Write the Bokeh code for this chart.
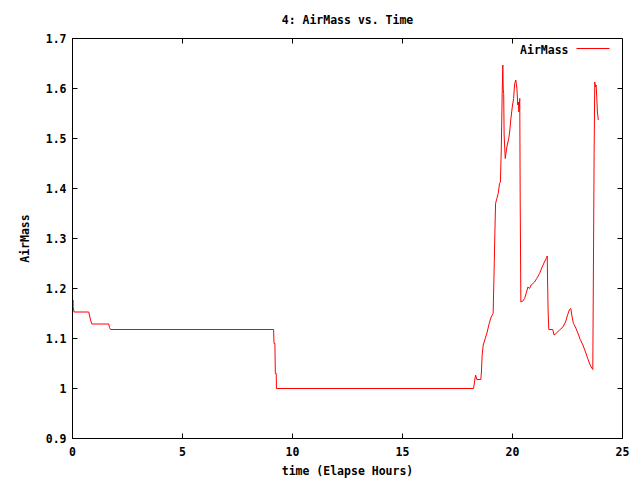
from bokeh.plotting import figure
from bokeh.models import FixedTicker, PrintfTickFormatter, Label, Arrow, LinearAxis
from bokeh.embed import file_html
from bokeh.resources import INLINE

title_text = "4: AirMass vs. Time"
x_label = "time (Elapse Hours)"
y_label = "AirMass"
series_name = "AirMass"

x_min, x_max = 0, 25
y_min, y_max = 0.9, 1.7
x_ticks = [0, 5, 10, 15, 20, 25]
y_ticks = [0.9, 1.0, 1.1, 1.2, 1.3, 1.4, 1.5, 1.6, 1.7]

time_hours = [
    0.03, 0.03, 0.07, 0.74, 0.78, 0.82, 0.88, 1.65, 1.68, 1.73, 9.14, 9.16, 9.2, 9.22,
    9.26, 9.27, 18.23, 18.32, 18.38, 18.56, 18.59, 18.62, 18.67, 18.76, 18.85, 18.94,
    19.03, 19.12, 19.15, 19.2, 19.23, 19.29, 19.35, 19.41, 19.45, 19.49, 19.53, 19.56,
    19.58, 19.6, 19.62, 19.67, 19.7, 19.76, 19.83, 19.88, 19.92, 19.99, 20.05, 20.1,
    20.15, 20.2, 20.24, 20.27, 20.29, 20.32, 20.33, 20.35, 20.38, 20.47, 20.55, 20.62,
    20.7, 20.77, 20.85, 21.0, 21.1, 21.23, 21.35, 21.45, 21.53, 21.58, 21.59, 21.62,
    21.65, 21.83, 21.89, 21.98, 22.14, 22.29, 22.41, 22.51, 22.59, 22.65, 22.71, 22.77,
    22.86, 22.97, 23.08, 23.2, 23.32, 23.42, 23.53, 23.62, 23.65, 23.67, 23.71, 23.74,
    23.77, 23.8, 23.83, 23.86, 23.9,
]
airmass = [
    1.177, 1.163, 1.153, 1.153, 1.145, 1.137, 1.129, 1.129, 1.122, 1.118, 1.118, 1.09,
    1.09, 1.03, 1.03, 1.0, 1.0, 1.027, 1.018, 1.018, 1.035, 1.067, 1.087, 1.1, 1.113,
    1.13, 1.143, 1.15, 1.207, 1.313, 1.37, 1.38, 1.39, 1.41, 1.413, 1.477, 1.587, 1.647,
    1.597, 1.59, 1.507, 1.46, 1.47, 1.487, 1.5, 1.517, 1.537, 1.563, 1.58, 1.61, 1.617,
    1.6, 1.567, 1.573, 1.553, 1.573, 1.58, 1.377, 1.173, 1.175, 1.18, 1.19, 1.203, 1.2,
    1.207, 1.213, 1.22, 1.23, 1.243, 1.253, 1.26, 1.265, 1.227, 1.153, 1.118, 1.118,
    1.107, 1.11, 1.117, 1.123, 1.133, 1.148, 1.158, 1.16, 1.143, 1.13, 1.123, 1.111,
    1.098, 1.087, 1.073, 1.06, 1.047, 1.04, 1.038, 1.183, 1.47, 1.613, 1.603, 1.607,
    1.583, 1.553, 1.537,
]

FONT = "DejaVu Sans Mono"
FS = "11.5px"
FRAME_W, FRAME_H = 550, 400
TICK_PX = 5

p = figure(width=640, height=480, x_range=(x_min, x_max), y_range=(y_min, y_max),
           output_backend="svg", toolbar_location=None,
           min_border_left=72, min_border_right=18, min_border_top=38,
           min_border_bottom=42)
p.background_fill_color = "white"
p.border_fill_color = "white"
p.outline_line_color = "black"
p.outline_line_alpha = 1.0
p.outline_line_width = 1
p.xgrid.visible = False
p.ygrid.visible = False

p.line(time_hours, airmass, line_color="#ff0000", line_width=1)

def style_axis(ax):
    ax.axis_line_color = "black"
    ax.major_tick_in = TICK_PX
    ax.major_tick_out = 0
    ax.minor_tick_line_color = None
    ax.major_tick_line_color = "black"
    ax.major_label_text_font = FONT
    ax.major_label_text_font_size = FS
    ax.major_label_text_font_style = "bold"
    ax.major_label_text_color = "black"
    ax.axis_label_text_font = FONT
    ax.axis_label_text_font_size = FS
    ax.axis_label_text_font_style = "bold"
    ax.axis_label_text_color = "black"

fmt = PrintfTickFormatter(format="%g")

p.xaxis.ticker = FixedTicker(ticks=x_ticks)
p.xaxis.formatter = fmt
p.xaxis.axis_label = x_label
style_axis(p.xaxis[0])
p.xaxis.major_label_standoff = 8
p.xaxis.axis_label_standoff = 5

p.yaxis.ticker = FixedTicker(ticks=y_ticks)
p.yaxis.formatter = fmt
p.yaxis.axis_label = y_label
style_axis(p.yaxis[0])
p.yaxis.major_label_standoff = 6
p.yaxis.axis_label_standoff = 11

# title drawn as the label of a tickless axis above the frame (centred on frame)
title_axis = LinearAxis(ticker=FixedTicker(ticks=[]), axis_label=title_text)
style_axis(title_axis)
title_axis.axis_line_color = None
title_axis.major_tick_in = 0
title_axis.major_label_standoff = 0
title_axis.axis_label_standoff = 12
p.add_layout(title_axis, "above")

# mirrored inward ticks on top and right edges
dy = (y_max - y_min) / FRAME_H * TICK_PX
dx = (x_max - x_min) / FRAME_W * TICK_PX
p.segment(x0=x_ticks, y0=[y_max] * len(x_ticks), x1=x_ticks,
          y1=[y_max - dy] * len(x_ticks), line_color="black", line_width=1)
p.segment(x0=[x_max] * len(y_ticks), y0=y_ticks, x1=[x_max - dx] * len(y_ticks),
          y1=y_ticks, line_color="black", line_width=1)

# legend (gnuplot style: text then line sample)
leg_text = Label(x=496, y=389, x_units="screen", y_units="screen", text=series_name,
                 text_align="right", text_baseline="middle", text_font=FONT,
                 text_font_size=FS, text_font_style="bold", text_color="black")
p.add_layout(leg_text)
leg_line = Arrow(x_start=504, y_start=390, x_end=537, y_end=390,
                 start_units="screen", end_units="screen", end=None,
                 line_color="#ff0000", line_width=1)
p.add_layout(leg_line)

open("out.html", "w").write(file_html(p, INLINE))
